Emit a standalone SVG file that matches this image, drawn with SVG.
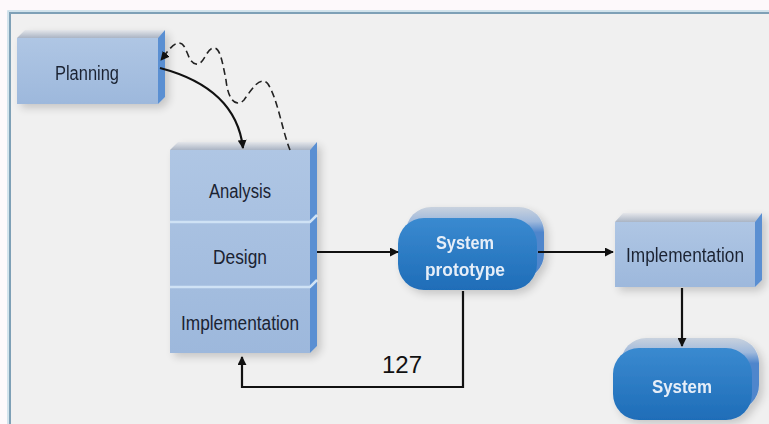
<svg xmlns="http://www.w3.org/2000/svg" width="769" height="424" viewBox="0 0 769 424">
<defs>
<linearGradient id="topg" x1="0" y1="0" x2="0" y2="1"><stop offset="0" stop-color="#e4e6ea"/><stop offset="1" stop-color="#aab4c4"/></linearGradient>
<linearGradient id="frontg" x1="0" y1="0" x2="0" y2="1"><stop offset="0" stop-color="#afc6e4"/><stop offset="1" stop-color="#9db8dc"/></linearGradient>
<linearGradient id="pillg" x1="0" y1="0" x2="0" y2="1"><stop offset="0" stop-color="#3a8ad0"/><stop offset="1" stop-color="#1f6db8"/></linearGradient>
<linearGradient id="pilltop" x1="0" y1="0" x2="0" y2="1"><stop offset="0" stop-color="#c9d2de"/><stop offset="0.2" stop-color="#9fb9dc"/><stop offset="0.35" stop-color="#4f86cc"/><stop offset="1" stop-color="#4f86cc"/></linearGradient>
<filter id="sh" x="-10%" y="-10%" width="130%" height="130%"><feGaussianBlur in="SourceAlpha" stdDeviation="4"/><feOffset dx="4" dy="4"/><feComponentTransfer><feFuncA type="linear" slope="0.18"/></feComponentTransfer><feMerge><feMergeNode/><feMergeNode in="SourceGraphic"/></feMerge></filter>
<marker id="ah" viewBox="0 0 10 10" refX="9" refY="5" markerWidth="9" markerHeight="9" markerUnits="userSpaceOnUse" orient="auto"><path d="M0,0 L10,5 L0,10 z" fill="#111"/></marker>
<style>
.front{fill:url(#frontg);}
.top{fill:url(#topg);}
.side{fill:#5a8fd2;}
.lbl{font-family:"Liberation Sans",Arial,sans-serif;font-size:20px;fill:#1b2332;text-anchor:middle;}
.plbl{font-family:"Liberation Sans",Arial,sans-serif;font-size:19px;font-weight:bold;fill:#e6eef8;text-anchor:middle;}
.conn{fill:none;stroke:#111;stroke-width:2.2;}
</style>
</defs>
<rect width="769" height="424" fill="#fdf9fb"/>
<rect x="10" y="13" width="759" height="411" fill="#f0f0f0"/>
<path d="M10,424 V13 H769" fill="none" stroke="#7ea0b6" stroke-width="2"/>
<path d="M8,424 V11 H769" fill="none" stroke="#c4dbe8" stroke-width="1.5"/>

<g id="planning" filter="url(#sh)">
<polygon class="top" points="17,38 25,30 165,30 158,38"/>
<polygon class="side" points="158,38 165,30 165,97 158,104"/>
<rect class="front" x="17" y="38" width="141" height="66"/>
<text class="lbl" x="87" y="80" textLength="64" lengthAdjust="spacingAndGlyphs">Planning</text>
</g>

<g id="stack" filter="url(#sh)">
<polygon class="top" points="170,150 178,142 317,142 310,150"/>
<polygon class="side" points="310,150 317,142 317,346 310,353"/>
<rect class="front" x="170" y="150" width="140" height="203"/>
<path d="M170,222 H310 L317,215 M170,287 H310 L317,280" stroke="#cfe2f5" stroke-width="2.5" fill="none"/>
</g>
<g id="analysis"><text class="lbl" x="240" y="198" textLength="62" lengthAdjust="spacingAndGlyphs">Analysis</text></g>
<g id="design"><text class="lbl" x="240" y="264" textLength="54" lengthAdjust="spacingAndGlyphs">Design</text></g>
<g id="implementation1"><text class="lbl" x="240" y="330" textLength="118" lengthAdjust="spacingAndGlyphs">Implementation</text></g>

<g id="prototype" filter="url(#sh)">
<rect x="406" y="207" width="138" height="72" rx="25" fill="url(#pilltop)"/>
<rect x="398" y="218" width="139" height="72" rx="26" fill="url(#pillg)"/>
<text class="plbl" x="465" y="249" textLength="58" lengthAdjust="spacingAndGlyphs">System</text>
<text class="plbl" x="465" y="276" textLength="80" lengthAdjust="spacingAndGlyphs">prototype</text>
</g>

<g id="implementation2" filter="url(#sh)">
<polygon class="top" points="615,222 623,213 762,213 755,222"/>
<polygon class="side" points="755,222 762,213 762,280 755,287"/>
<rect class="front" x="615" y="222" width="140" height="65"/>
<text class="lbl" x="685" y="262" textLength="118" lengthAdjust="spacingAndGlyphs">Implementation</text>
</g>

<g id="system" filter="url(#sh)">
<rect x="621" y="338" width="138" height="72" rx="25" fill="url(#pilltop)"/>
<rect x="613" y="348" width="139" height="72" rx="26" fill="url(#pillg)"/>
<text class="plbl" x="682" y="393" textLength="60" lengthAdjust="spacingAndGlyphs">System</text>
</g>

<g id="connectors">
<path class="conn" d="M160,68 Q236,88 243,148" marker-end="url(#ah)"/>
<path d="M290,150 C282,130 278,100 268,84 C260,74 250,92 244,100 C236,108 228,100 226,80 C222,60 220,48 214,48 C206,48 204,66 196,64 C186,62 188,42 178,43 C172,44 166,54 161,60" fill="none" stroke="#222" stroke-width="1.6" stroke-dasharray="7,4" marker-end="url(#ah)"/>
<path class="conn" d="M317,252 H398" marker-end="url(#ah)"/>
<path class="conn" d="M538,252 H613" marker-end="url(#ah)"/>
<path class="conn" d="M682,288 V346" marker-end="url(#ah)"/>
<path class="conn" d="M463,291 V387 H242 V357" marker-end="url(#ah)"/>
</g>
<text x="382" y="373" font-family="Liberation Sans,Arial,sans-serif" font-size="24" fill="#111">127</text>
</svg>
